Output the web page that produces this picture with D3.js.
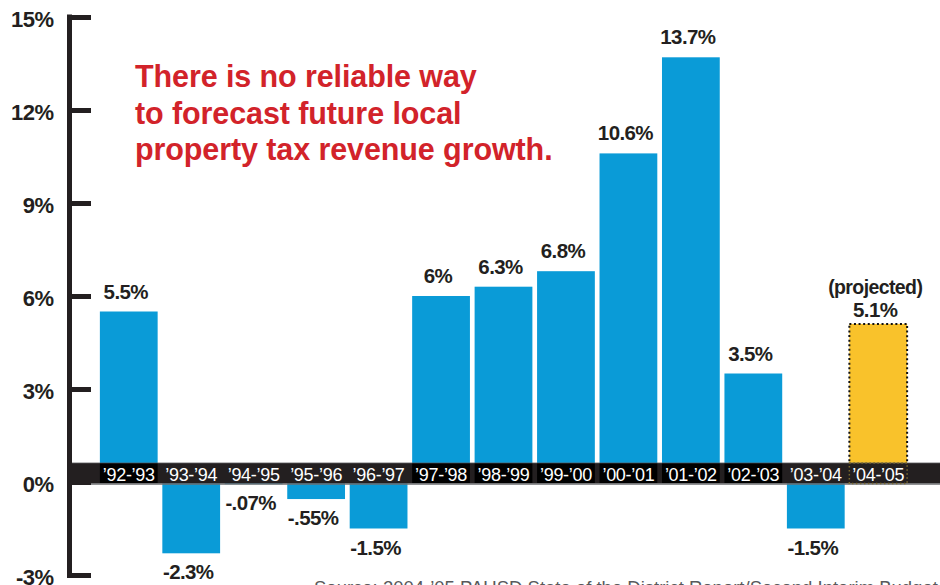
<!DOCTYPE html>
<html>
<head>
<meta charset="utf-8">
<script src="https://cdn.jsdelivr.net/npm/d3@7"></script>
<style>
  html, body { margin: 0; padding: 0; background: #fff; }
  svg { display: block; }
</style>
</head>
<body>
<svg id="chart" width="940" height="585"></svg>
<script>
// School years and annual change in local property tax revenue (%)
const years = ["’92-’93", "’93-’94", "’94-’95", "’95-’96", "’96-’97", "’97-’98", "’98-’99",
               "’99-’00", "’00-’01", "’01-’02", "’02-’03", "’03-’04", "’04-’05"];
const growth = [5.5, -2.3, -0.07, -0.55, -1.5, 6, 6.3, 6.8, 10.6, 13.7, 3.5, -1.5, 5.1];
const valueLabels = ["5.5%", "-2.3%", "-.07%", "-.55%", "-1.5%", "6%", "6.3%", "6.8%",
                     "10.6%", "13.7%", "3.5%", "-1.5%", "5.1%"];
const projected = [false, false, false, false, false, false, false, false, false, false, false, false, true];
const yTicks = [-3, 0, 3, 6, 9, 12, 15];
const headline = ["There is no reliable way", "to forecast future local", "property tax revenue growth."];
const sourceNote = "Source: 2004-’05 PAUSD State of the District Report/Second Interim Budget";

const BLUE = "#0a9bd7", GOLD = "#f9c22b", INK = "#231f20", RED = "#d2232a";
const svg = d3.select("#chart");

const y = d3.scaleLinear().domain([-3, 15]).range([575, 17]);
const x = d3.scaleBand().domain(years).range([97.5, 909.5])
  .paddingInner(0.075).paddingOuter(0.038);
const axisX = 69.5;
const data = years.map((yr, i) => ({ yr, v: growth[i], label: valueLabels[i], proj: projected[i] }));

// Bars
svg.append("g").selectAll("rect").data(data).join("rect")
  .attr("x", d => x(d.yr))
  .attr("width", x.bandwidth())
  .attr("y", d => y(Math.max(0, d.v)))
  .attr("height", d => Math.abs(y(d.v) - y(0)))
  .attr("fill", d => d.proj ? GOLD : BLUE);

// Dotted outline on the projected bar
const projG = svg.append("g");
data.filter(d => d.proj).forEach(d => {
  projG.append("rect")
    .attr("x", x(d.yr)).attr("width", x.bandwidth())
    .attr("y", y(d.v)).attr("height", y(0) - y(d.v))
    .attr("fill", "none").attr("stroke", "#111").attr("stroke-width", 2)
    .attr("stroke-dasharray", "2,2.6");
});

// Dark category band across the zero line
const bandTop = y(0) - 19, bandBot = y(0) + 1.5;
svg.append("rect").attr("x", axisX).attr("y", bandTop).attr("width", 940 - axisX)
  .attr("height", bandBot - bandTop).attr("fill", INK);
svg.append("line").attr("x1", axisX).attr("x2", 940).attr("y1", bandBot + 0.5).attr("y2", bandBot + 0.5)
  .attr("stroke", "#6d6e71").attr("stroke-width", 1.5);
svg.append("line").attr("x1", axisX).attr("x2", 940).attr("y1", bandTop).attr("y2", bandTop)
  .attr("stroke", "#58595b").attr("stroke-width", 0.8);

// Positive bars continue through the band as black boxes
svg.append("g").selectAll("rect").data(data.filter(d => d.v > 0 && !d.proj)).join("rect")
  .attr("x", d => x(d.yr)).attr("width", x.bandwidth())
  .attr("y", bandTop + 0.5).attr("height", bandBot - bandTop - 1)
  .attr("fill", "#000");
data.filter(d => d.proj).forEach(d => {
  svg.append("rect")
    .attr("x", x(d.yr)).attr("width", x.bandwidth())
    .attr("y", bandTop).attr("height", bandBot - bandTop)
    .attr("fill", "none").attr("stroke", "#7d6a2c").attr("stroke-width", 1.5)
    .attr("stroke-dasharray", "1.5,2.5");
});

// Category labels inside the band
svg.append("g").selectAll("text").data(data).join("text")
  .attr("x", d => x(d.yr) + x.bandwidth() / 2)
  .attr("y", y(0) - 1.5)
  .attr("text-anchor", "middle")
  .attr("fill", "#fff")
  .attr("font-family", "'Liberation Sans Narrow', 'Arial Narrow', 'Liberation Sans', sans-serif")
  .attr("font-size", 18)
  .attr("letter-spacing", -0.3)
  .text(d => d.yr);

// Value labels
svg.append("g").selectAll("text").data(data).join("text")
  .attr("x", d => x(d.yr) + x.bandwidth() / 2 - 3)
  .attr("y", d => d.proj ? y(d.v) - 7 : (d.v >= 0 ? y(d.v) - 13 : y(d.v) + 26))
  .attr("text-anchor", "middle")
  .attr("fill", INK)
  .attr("font-family", "'Liberation Sans', Arial, sans-serif")
  .attr("font-weight", "bold")
  .attr("font-size", 20.5)
  .attr("letter-spacing", -0.6)
  .text(d => d.label);
data.filter(d => d.proj).forEach(d => {
  svg.append("text")
    .attr("x", x(d.yr) + x.bandwidth() / 2 - 3)
    .attr("y", y(d.v) - 30)
    .attr("text-anchor", "middle")
    .attr("fill", INK)
    .attr("font-family", "'Liberation Sans', Arial, sans-serif")
    .attr("font-weight", "bold")
    .attr("font-size", 19.5)
    .attr("letter-spacing", -0.6)
    .text("(projected)");
});

// Y axis: heavy line with inward ticks
const yAxis = d3.axisLeft(y).tickValues(yTicks).tickSize(-21.5).tickSizeOuter(0)
  .tickPadding(16).tickFormat(d => d + "%");
const gy = svg.append("g").attr("transform", `translate(${axisX},0)`).call(yAxis);
gy.select(".domain").attr("stroke", INK).attr("stroke-width", 5)
  .attr("d", `M0,${y(-3) + 2.5}V${y(15) - 2.5}`);
gy.selectAll(".tick line").attr("stroke", INK).attr("stroke-width", 5).attr("x1", -2.5);
gy.selectAll(".tick text")
  .attr("fill", INK)
  .attr("font-family", "'Liberation Sans', Arial, sans-serif")
  .attr("font-weight", "bold")
  .attr("font-size", 22)
  .attr("letter-spacing", -0.5)
  .attr("dy", "0.42em");

// Headline
svg.append("g").selectAll("text").data(headline).join("text")
  .attr("x", 135)
  .attr("y", (d, i) => 87 + i * 36.5)
  .attr("fill", RED)
  .attr("font-family", "'Liberation Sans', Arial, sans-serif")
  .attr("font-weight", "bold")
  .attr("font-size", 30.5)
  .attr("letter-spacing", -0.1)
  .text(d => d);

// Source note along the bottom edge
svg.append("text")
  .attr("x", 314).attr("y", 594)
  .attr("fill", "#58595b")
  .attr("font-family", "'Liberation Sans', Arial, sans-serif")
  .attr("font-size", 18.5)
  .text(sourceNote);
</script>
</body>
</html>
